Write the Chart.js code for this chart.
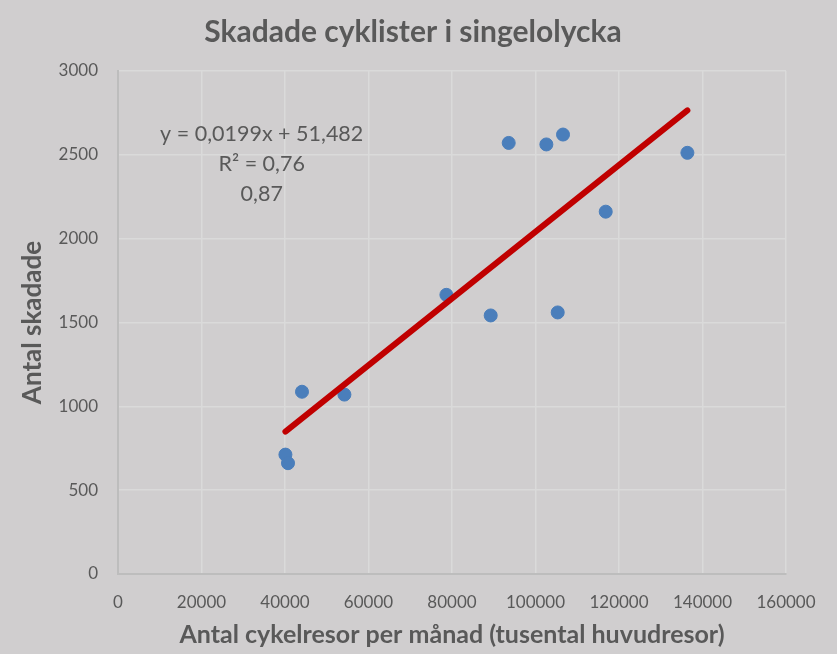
<!DOCTYPE html>
<html>
<head>
<meta charset="utf-8">
<script src="https://cdn.jsdelivr.net/npm/chart.js@4/dist/chart.umd.min.js"></script>
<style>
html,body{margin:0;padding:0;background:#d0cecf;}
#wrap{width:837px;height:654px;position:relative;}
</style>
</head>
<body>
<div id="wrap"><canvas id="c" width="837" height="654"></canvas></div>
<script>
const titleText = "Skadade cyklister i singelolycka";
const xAxisTitle = "Antal cykelresor per månad (tusental huvudresor)";
const yAxisTitle = "Antal skadade";
const tripsX = [40100, 40720, 44070, 54230, 78660, 89270, 93580, 102600, 105320, 106590, 116820, 136380];
const injuredY = [712, 661, 1087, 1070, 1665, 1542, 2571, 2562, 1560, 2621, 2161, 2512];
const trendX = [40100, 136380];
const trendY = [849, 2765];
const annotationLines = ["y = 0,0199x + 51,482", "R² = 0,76", "0,87"];
const xTicks = [0, 20000, 40000, 60000, 80000, 100000, 120000, 140000, 160000];
const yTicks = [0, 500, 1000, 1500, 2000, 2500, 3000];

const textColor = "#595959";
const fontFam = "Lato, 'Open Sans', sans-serif";

const annotationPlugin = {
  id: "annot",
  afterDatasetsDraw(chart) {
    const ctx = chart.ctx;
    const xs = chart.scales.x, ys = chart.scales.y;
    ctx.save();
    ctx.fillStyle = textColor;
    ctx.font = "21.5px " + fontFam;
    ctx.textAlign = "center";
    ctx.textBaseline = "middle";
    const cx = xs.getPixelForValue(34420);
    const y0 = ys.getPixelForValue(2623);
    annotationLines.forEach((t, i) => ctx.fillText(t, cx, y0 + i * 30));
    ctx.restore();
  }
};

const bgPlugin = {
  id: "bg",
  beforeDraw(chart) {
    const ctx = chart.ctx;
    ctx.save();
    ctx.fillStyle = "#d0cecf";
    ctx.fillRect(0, 0, chart.width, chart.height);
    ctx.restore();
  }
};

new Chart(document.getElementById("c"), {
  type: "scatter",
  data: {
    datasets: [
      {
        label: "Skadade",
        data: tripsX.map((x, i) => ({ x: x, y: injuredY[i] })),
        backgroundColor: "#4a7ebb",
        borderColor: "#4a7ebb",
        pointRadius: 6.5,
        pointHoverRadius: 6.5,
        order: 2
      },
      {
        type: "line",
        label: "Trend",
        data: trendX.map((x, i) => ({ x: x, y: trendY[i] })),
        borderColor: "#c00000",
        borderWidth: 6,
        borderCapStyle: "round",
        pointRadius: 0,
        fill: false,
        order: 1
      }
    ]
  },
  options: {
    responsive: false,
    animation: false,
    devicePixelRatio: 1,
    layout: { padding: { left: 0, right: 11, top: 0, bottom: 4 } },
    plugins: {
      legend: { display: false },
      tooltip: { enabled: false },
      title: {
        display: true,
        text: titleText,
        color: textColor,
        font: { family: fontFam, size: 30, weight: "bold" },
        padding: { top: 14, bottom: 21 }
      }
    },
    scales: {
      x: {
        type: "linear",
        min: 0, max: 160000,
        afterBuildTicks(s) { s.ticks = xTicks.map(v => ({ value: v })); },
        afterFit(s) { s.height = 76; },
        grid: { color: "#dadada", lineWidth: 1.5, drawTicks: false },
        border: { color: "#bdbdbd", width: 2 },
        ticks: {
          color: textColor,
          font: { family: fontFam, size: 17 },
          padding: 18,
          maxRotation: 0,
          callback: v => String(v)
        },
        title: {
          display: true,
          text: xAxisTitle,
          color: textColor,
          font: { family: fontFam, size: 25, weight: "bold" },
          padding: { top: 3, bottom: 0 }
        }
      },
      y: {
        type: "linear",
        min: 0, max: 3000,
        afterBuildTicks(s) { s.ticks = yTicks.map(v => ({ value: v })); },
        afterFit(s) { s.width = 118; },
        grid: { color: "#dadada", lineWidth: 1.5, drawTicks: false },
        border: { color: "#bdbdbd", width: 2 },
        ticks: {
          color: textColor,
          font: { family: fontFam, size: 17 },
          padding: 20,
          callback: v => String(v)
        },
        title: {
          display: true,
          text: yAxisTitle,
          color: textColor,
          font: { family: fontFam, size: 26, weight: "bold" },
          padding: { top: 17, bottom: 0 }
        }
      },
      yRight: {
        type: "linear",
        position: "right",
        display: true,
        afterFit(s) { s.width = 40; },
        grid: { display: false, drawTicks: false },
        border: { display: false },
        ticks: { display: false }
      }
    }
  },
  plugins: [bgPlugin, annotationPlugin]
});
</script>
</body>
</html>
